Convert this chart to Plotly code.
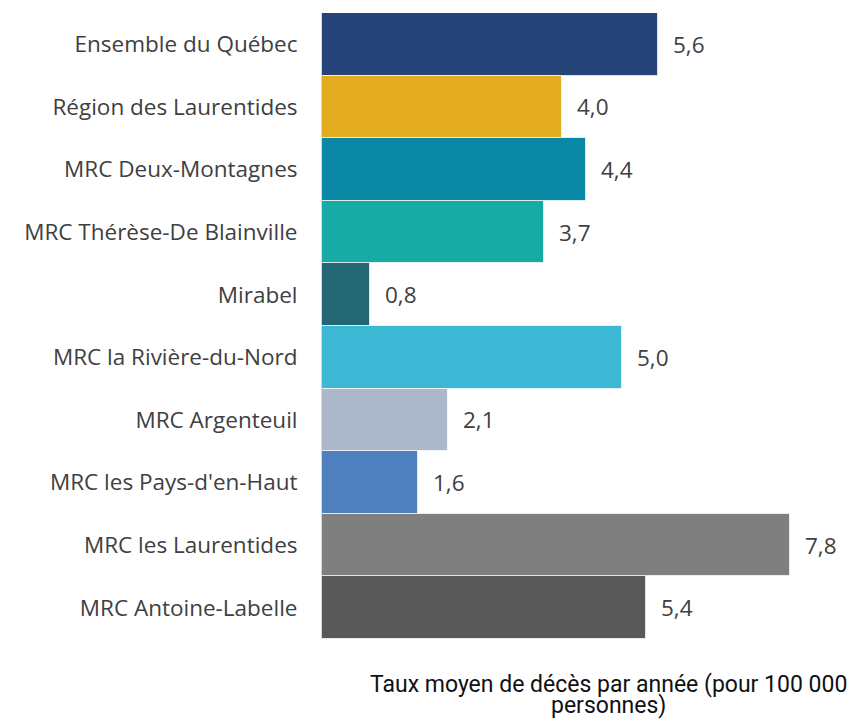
import plotly.graph_objects as go

categories = [
    "Ensemble du Québec",
    "Région des Laurentides",
    "MRC Deux-Montagnes",
    "MRC Thérèse-De Blainville",
    "Mirabel",
    "MRC la Rivière-du-Nord",
    "MRC Argenteuil",
    "MRC les Pays-d'en-Haut",
    "MRC les Laurentides",
    "MRC Antoine-Labelle",
]
values = [5.6, 4.0, 4.4, 3.7, 0.8, 5.0, 2.1, 1.6, 7.8, 5.4]
colors = [
    "#264478", "#E4AC21", "#0987A4", "#18ABA5", "#236775",
    "#3DB8D4", "#ADB9CB", "#4F80BD", "#7F7F7F", "#595959",
]
value_labels = [f"{v:.1f}".replace(".", ",") for v in values]
x_title_lines = ["Taux moyen de décès par année (pour 100 000", "personnes)"]

fig = go.Figure()
fig.add_trace(go.Bar(
    y=categories,
    x=values,
    orientation="h",
    marker=dict(color=colors, line=dict(color="rgba(255,255,255,0.7)", width=1)),
    hoverinfo="skip",
))

for c, v, t in zip(categories, values, value_labels):
    fig.add_annotation(
        x=v, y=c, text=t, showarrow=False, xanchor="left", xshift=13,
        font=dict(family="Open Sans", size=22.5, color="#404040"),
    )

for line, ypos in zip(x_title_lines, [-0.0719, -0.1062]):
    fig.add_annotation(
        x=0.5627, y=ypos, xref="paper", yref="paper", text=line, showarrow=False,
        xanchor="center", yanchor="middle",
        font=dict(family="Roboto", size=23, color="#111111"),
    )

fig.update_layout(
    width=861, height=724,
    margin=dict(l=314, r=37, t=5, b=93, autoexpand=False),
    paper_bgcolor="white", plot_bgcolor="white",
    bargap=0,
    showlegend=False,
    xaxis=dict(range=[0, 8.5], visible=False, fixedrange=True),
    yaxis=dict(
        autorange="reversed",
        showline=True, linecolor="#D9D9D9", linewidth=1,
        ticks="", ticklabelstandoff=19,
        tickfont=dict(family="Open Sans", size=22.5, color="#404040"),
        showgrid=False, zeroline=False,
    ),
)
fig.write_html("out.html")
